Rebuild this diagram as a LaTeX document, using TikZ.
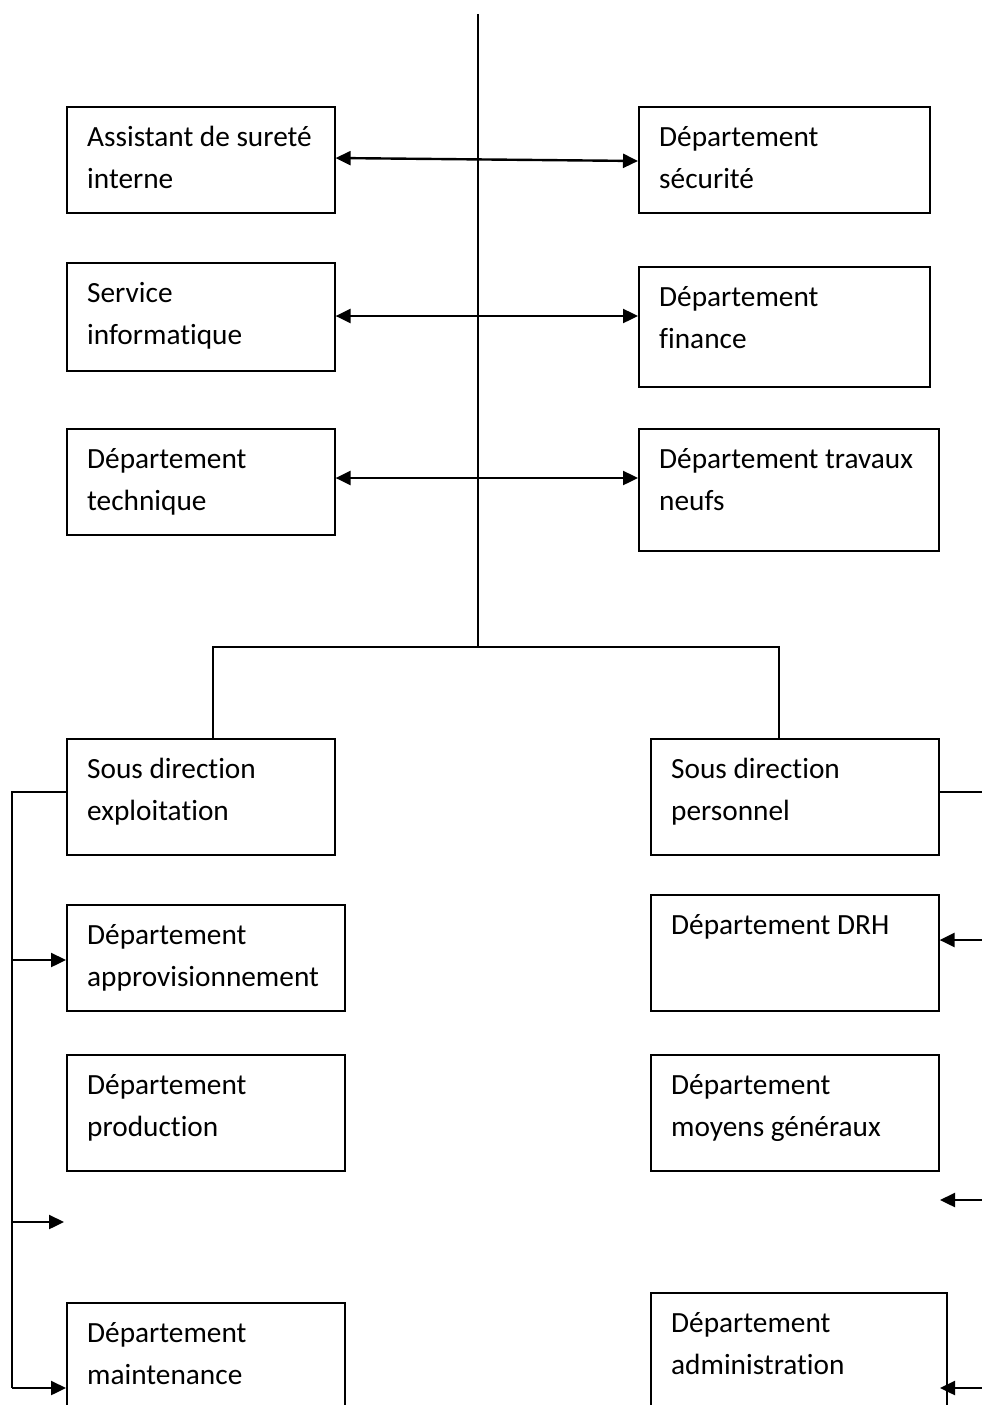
\documentclass[tikz,border=0pt]{standalone}
\usepackage{fontspec}
\setmainfont[Ligatures={NoCommon,NoContextual}]{Carlito}
\usetikzlibrary{arrows.meta,calc}

% two-line label whose reference point is the first baseline
\newcommand\boxlines[1]{\parbox[t]{320pt}{#1}}

\tikzset{
  unitbox/.style={draw, line width=1.6pt, inner sep=0pt, anchor=north west},
  boxlabel/.style={anchor=base west, inner sep=0pt, font=\fontsize{29.3}{42}\selectfont},
  link/.style={line width=1.6pt},
  arr/.style={line width=2.4pt, -{Triangle[length=15pt,width=14pt]}},
  biarr/.style={line width=2.4pt, {Triangle[length=15pt,width=14pt]}-{Triangle[length=15pt,width=14pt]}}
}

\begin{document}
\begin{tikzpicture}[x=1pt,y=-1pt]
\clip (0,0) rectangle (982,1405);
\fill[white] (0,0) rectangle (982,1405);

% boxes: top-left corner, width, height
\node[unitbox, minimum width=268pt, minimum height=106pt] (b1) at (66,106) {};
\node[unitbox, minimum width=291pt, minimum height=106pt] (b2) at (638,106) {};
\node[unitbox, minimum width=268pt, minimum height=108pt] (b3) at (66,262) {};
\node[unitbox, minimum width=291pt, minimum height=120pt] (b4) at (638,266) {};
\node[unitbox, minimum width=268pt, minimum height=106pt] (b5) at (66,428) {};
\node[unitbox, minimum width=300pt, minimum height=122pt] (b6) at (638,428) {};
\node[unitbox, minimum width=268pt, minimum height=116pt] (b7) at (66,738) {};
\node[unitbox, minimum width=288pt, minimum height=116pt] (b8) at (650,738) {};
\node[unitbox, minimum width=278pt, minimum height=106pt] (b9) at (66,904) {};
\node[unitbox, minimum width=288pt, minimum height=116pt] (b10) at (650,894) {};
\node[unitbox, minimum width=278pt, minimum height=116pt] (b11) at (66,1054) {};
\node[unitbox, minimum width=288pt, minimum height=116pt] (b12) at (650,1054) {};
\node[unitbox, minimum width=278pt, minimum height=150pt] (b13) at (66,1302) {};
\node[unitbox, minimum width=296pt, minimum height=160pt] (b14) at (650,1292) {};

% labels
\node[boxlabel] (t1) at ($(b1.north west)+(21,40)$) {\boxlines{Assistant de sureté\\interne}};
\node[boxlabel] (t2) at ($(b2.north west)+(21,40)$) {\boxlines{Département\\sécurité}};
\node[boxlabel] (t3) at ($(b3.north west)+(21,40)$) {\boxlines{Service\\informatique}};
\node[boxlabel] (t4) at ($(b4.north west)+(21,40)$) {\boxlines{Département\\finance}};
\node[boxlabel] (t5) at ($(b5.north west)+(21,40)$) {\boxlines{Département\\technique}};
\node[boxlabel] (t6) at ($(b6.north west)+(21,40)$) {\boxlines{Département travaux\\neufs}};
\node[boxlabel] (t7) at ($(b7.north west)+(21,40)$) {\boxlines{Sous direction\\exploitation}};
\node[boxlabel] (t8) at ($(b8.north west)+(21,40)$) {\boxlines{Sous direction\\personnel}};
\node[boxlabel] (t9) at ($(b9.north west)+(21,40)$) {\boxlines{Département\\approvisionnement}};
\node[boxlabel] (t10) at ($(b10.north west)+(21,40)$) {\boxlines{Département DRH}};
\node[boxlabel] (t11) at ($(b11.north west)+(21,40)$) {\boxlines{Département\\production}};
\node[boxlabel] (t12) at ($(b12.north west)+(21,40)$) {\boxlines{Département\\moyens généraux}};
\node[boxlabel] (t13) at ($(b13.north west)+(21,40)$) {\boxlines{Département\\maintenance}};
\node[boxlabel] (t14) at ($(b14.north west)+(21,40)$) {\boxlines{Département\\administration}};

% trunk and split
\coordinate (top) at (478,14);
\coordinate (split) at (478,647);
\draw[link] (top) -- (split);
\draw[link] (split) -| ([xshift=12pt]b7.north);
\draw[link] (split) -| ([xshift=-16pt]b8.north);

% staff links
\draw[biarr] (b1.east |- 0,158) -- (b2.west |- 0,161);
\draw[biarr] (b3.east |- 0,316) -- (b4.west |- 0,316);
\draw[biarr] (b5.east |- 0,478) -- (b6.west |- 0,478);

% left bus
\coordinate (lbus) at (12,792);
\coordinate (lend) at (12,1388);
\coordinate (lfree) at (64,1222);
\draw[link] (b7.west |- lbus) -- (lbus) -- (lend);
\draw[arr] (lbus |- 0,960) -- (b9.west |- 0,960);
\draw[arr] (lbus |- lfree) -- (lfree);
\draw[arr] (lend) -- (b13.west |- lend);

% right bus
\coordinate (rbus) at (982,792);
\coordinate (rfree) at (940,1200);
\coordinate (rend) at (940,1388);
\draw[link] (b8.east |- rbus) -- (rbus);
\draw[arr] (982,940) -- (b10.east |- 0,940);
\draw[arr] (rbus |- rfree) -- (rfree);
\draw[arr] (rbus |- rend) -- (rend);
\end{tikzpicture}
\end{document}
